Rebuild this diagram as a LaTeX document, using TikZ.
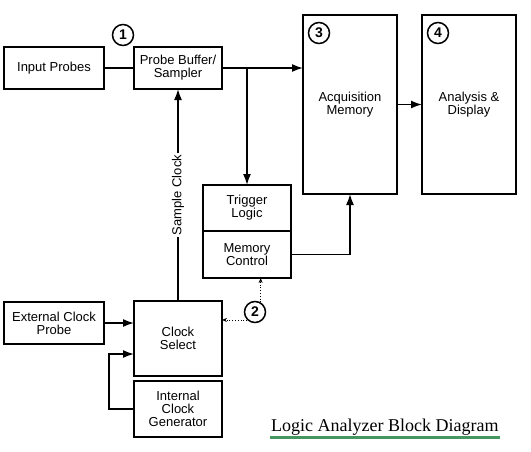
\documentclass[tikz,border=0pt]{standalone}
\usepackage{fontspec}
\setmainfont{Liberation Serif}
\setsansfont{Liberation Sans}
\usepackage{tikz}
\usetikzlibrary{arrows.meta,positioning}
\definecolor{ulgreen}{RGB}{70,150,95}
\tikzset{
  blk/.style = {draw=black, line width=1.6pt, align=center, inner sep=0pt, outer sep=0pt, font=\sffamily\fontsize{13}{13}\selectfont},
  blk_std/.style = {blk, minimum width=88pt, minimum height=42pt},
  blk_tall/.style = {blk, minimum width=94pt, minimum height=179pt},
  num/.style = {circle, draw=black, line width=1.5pt, minimum size=21pt, inner sep=0pt, font=\sffamily\bfseries\fontsize{14}{14}\selectfont},
  conn/.style = {line width=1.6pt, -{Latex[length=11pt,width=8pt]}},
  dotconn/.style = {line width=0.8pt, dotted, -{Stealth[length=5pt,width=4pt]}},
}
\begin{document}
\begin{tikzpicture}[x=1pt, y=-1pt]
  \useasboundingbox (0,0) rectangle (531,451);
  % top row
  \node [blk_std, minimum width=100pt] (inprobes) at (54,68) {Input Probes};
  \node [blk_std] (buffer) at (178,68) {Probe Buffer/\\Sampler};
  \node [blk_tall] (acq) at (350,104.5) {Acquisition\\Memory};
  \node [blk_tall] (analysis) at (469,104.5) {Analysis \&\\Display};
  % trigger and memory control
  \node [blk, minimum width=88pt, minimum height=46pt] (trigger) at (247,208) {Trigger\\Logic};
  \node [blk, minimum width=88pt, minimum height=47pt, below=0pt of trigger] (memctrl) {Memory\\Control};
  % clock part
  \node [blk_std, minimum width=100pt] (extclk) at (54,323) {External Clock\\Probe};
  \node [blk, minimum width=88pt, minimum height=75pt] (clksel) at (178,338.5) {Clock\\Select};
  \node [blk, minimum width=88pt, minimum height=56pt] (intclk) at (178,409) {Internal\\Clock\\Generator};
  % numbers
  \node [num] (c1) at (123,35) {1};
  \node [num] (c2) at (255,312) {2};
  \node [num] (c3) at (319,33) {3};
  \node [num] (c4) at (438,33) {4};
  % connectors
  \draw [line width=1.6pt] (inprobes.east) -- (buffer.west);
  \draw [conn] (buffer.east) -- (buffer.east -| acq.west);
  \coordinate (split) at (buffer.east -| trigger.north);
  \draw [conn] (split) -- (trigger.north);
  \draw [conn] (acq.east) -- (analysis.west);
  \draw [conn] (memctrl.east) -| (acq.south);
  \draw [conn] (clksel.north) -- node [sloped, fill=white, inner sep=2pt, font=\sffamily\fontsize{13}{13}\selectfont] {Sample Clock} (buffer.south);
  \draw [conn] (extclk.east) -- (extclk.east -| clksel.west);
  \draw [conn] (intclk.west) -- ++(-25,0) |- ([yshift=-15.5pt]clksel.west);
  \draw [dotconn] (c2.225) -- (c2.225 -| clksel.east);
  \draw [dotconn] (c2.60) -- (c2.60 |- memctrl.south);
  % title
  \node [anchor=base west, inner sep=0pt, font=\fontsize{18}{18}\selectfont] (title) at (271,431) {Logic Analyzer Block Diagram};
  \draw [ulgreen, line width=3pt] ([xshift=-1pt,yshift=-6pt]title.base west) -- ([xshift=1pt,yshift=-6pt]title.base east);
\end{tikzpicture}
\end{document}
